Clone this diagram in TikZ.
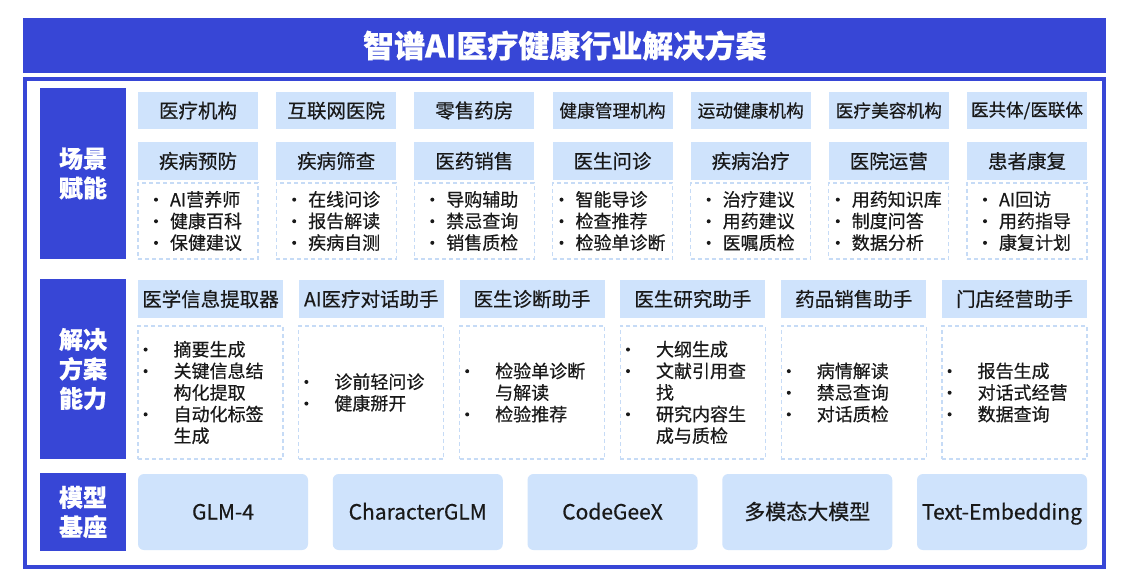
\documentclass[tikz,border=0pt]{standalone}
\usepackage{fontspec}
\setmainfont{Noto Sans CJK SC}[RawFeature={embolden=0.5}]
\definecolor{mainblue}{RGB}{55,70,214}
\definecolor{lightblue}{RGB}{207,227,252}
\definecolor{dashblue}{RGB}{198,219,246}
\definecolor{txt}{RGB}{25,25,25}
\newcommand{\dotb}{\tikz[baseline=-6.6pt]\fill[txt] (0pt,0pt) circle (2pt);}
\newcommand{\bl}{\makebox[16pt][l]{\dotb}}
\newcommand{\bw}{\makebox[30pt][l]{\dotb}}
\newcommand{\bn}{\makebox[30pt][l]{}}
\begin{document}
\begin{tikzpicture}[x=1pt,y=-1pt,
  orgbox/.style={fill=lightblue, inner sep=0pt, minimum width=120pt, minimum height=37pt, text=txt, font=\fontsize{19.5}{22}\selectfont},
  scenbox/.style={orgbox, minimum height=38pt},
  dbox/.style={draw=dashblue, line width=1.2pt, dash pattern=on 4pt off 3pt, fill=white, inner sep=0pt},
  blist/.style={inner sep=0pt, align=left, text=txt, font=\fontsize{18}{21.6}\selectfont},
  solbox/.style={fill=lightblue, inner sep=0pt, minimum width=145pt, minimum height=38pt, text=txt, font=\fontsize{19.5}{22}\selectfont},
  mbox/.style={fill=lightblue, rounded corners=6pt, inner sep=0pt, minimum width=170pt, minimum height=76pt, text height=19pt, text depth=4pt, text=txt, font=\fontsize{21}{24}\selectfont},
  panel/.style={fill=mainblue, text=white, inner sep=0pt, minimum width=86pt, align=center, font=\bfseries\fontsize{24}{29.5}\selectfont}
]
\useasboundingbox[fill=white] (0,0) rectangle (1129,587);

% title
\fill[mainblue] (23.3,18) rectangle (1106,72.7);
\node[text=white, font=\bfseries\fontsize{31}{35}\selectfont] (title) at (564.7,45.5) {智谱AI医疗健康行业解决方案};
% frame
\draw[mainblue, line width=4pt] (25.3,78.7) rectangle (1104,567);

% left panels
\node[panel, minimum height=171pt] (p1) at (83,173.5) {场景\\赋能};
\node[panel, minimum height=180pt] (p2) at (83,369) {解决\\方案\\能力};
\node[panel, minimum height=78pt] (p3) at (83,512) {模型\\基座};

% section 1 row 1
\node[orgbox] (o1) at (198,110.5) {医疗机构};
\node[orgbox] (o2) at (336.2,110.5) {互联网医院};
\node[orgbox] (o3) at (474.3,110.5) {零售药房};
\node[orgbox, font=\fontsize{17.7}{20}\selectfont] (o4) at (612.5,110.5) {健康管理机构};
\node[orgbox, font=\fontsize{17.7}{20}\selectfont] (o5) at (750.7,110.5) {运动健康机构};
\node[orgbox, font=\fontsize{17.7}{20}\selectfont] (o6) at (888.8,110.5) {医疗美容机构};
\node[orgbox, font=\fontsize{17.5}{20}\selectfont] (o7) at (1027,110.5) {医共体/医联体};

% section 1 row 2
\node[scenbox] (s1) at (198,161) {疾病预防};
\node[scenbox] (s2) at (336.2,161) {疾病筛查};
\node[scenbox] (s3) at (474.3,161) {医药销售};
\node[scenbox] (s4) at (612.5,161) {医生问诊};
\node[scenbox] (s5) at (750.7,161) {疾病治疗};
\node[scenbox] (s6) at (888.8,161) {医院运营};
\node[scenbox] (s7) at (1027,161) {患者康复};

% section 1 row 3
\foreach \cx [count=\i] in {198,336.2,474.3,612.5,750.7,888.8,1027}
  \node[dbox, minimum width=120pt, minimum height=76pt] (d\i) at (\cx,221) {};
\node[blist] (l1) at (d1) {\bl AI营养师\\\bl 健康百科\\\bl 保健建议};
\node[blist] (l2) at (d2) {\bl 在线问诊\\\bl 报告解读\\\bl 疾病自测};
\node[blist] (l3) at (d3) {\bl 导购辅助\\\bl 禁忌查询\\\bl 销售质检};
\node[blist] (l4) at (d4) {\bl 智能导诊\\\bl 检查推荐\\\bl 检验单诊断};
\node[blist] (l5) at (d5) {\bl 治疗建议\\\bl 用药建议\\\bl 医嘱质检};
\node[blist] (l6) at (d6) {\bl 用药知识库\\\bl 制度问答\\\bl 数据分析};
\node[blist] (l7) at (d7) {\bl AI回访\\\bl 用药指导\\\bl 康复计划};

% section 2 headers
\node[solbox] (h1) at (210.5,299) {医学信息提取器};
\node[solbox] (h2) at (371.3,299) {AI医疗对话助手};
\node[solbox] (h3) at (532.1,299) {医生诊断助手};
\node[solbox] (h4) at (692.9,299) {医生研究助手};
\node[solbox] (h5) at (853.7,299) {药品销售助手};
\node[solbox] (h6) at (1014.5,299) {门店经营助手};

% section 2 dashed boxes
\foreach \cx [count=\i] in {210.5,371.3,532.1,692.9,853.7,1014.5}
  \node[dbox, minimum width=145pt, minimum height=133pt] (e\i) at (\cx,392.5) {};
\node[blist, anchor=west] (m1) at ([xshift=6pt]e1.west) {\bw 摘要生成\\\bw 关键信息结\\\bn 构化提取\\\bw 自动化标签\\\bn 生成};
\node[blist, anchor=west] (m2) at ([xshift=6pt]e2.west) {\bw 诊前轻问诊\\\bw 健康掰开};
\node[blist, anchor=west] (m3) at ([xshift=6pt]e3.west) {\bw 检验单诊断\\\bn 与解读\\\bw 检验推荐};
\node[blist, anchor=west] (m4) at ([xshift=6pt]e4.west) {\bw 大纲生成\\\bw 文献引用查\\\bn 找\\\bw 研究内容生\\\bn 成与质检};
\node[blist, anchor=west] (m5) at ([xshift=6pt]e5.west) {\bw 病情解读\\\bw 禁忌查询\\\bw 对话质检};
\node[blist, anchor=west] (m6) at ([xshift=6pt]e6.west) {\bw 报告生成\\\bw 对话式经营\\\bw 数据查询};

% section 3 models
\node[mbox] (g1) at (223,512) {GLM-4};
\node[mbox] (g2) at (417.75,512) {CharacterGLM};
\node[mbox] (g3) at (612.5,512) {CodeGeeX};
\node[mbox] (g4) at (807.25,512) {多模态大模型};
\node[mbox] (g5) at (1002,512) {Text-Embedding};
\end{tikzpicture}
\end{document}
